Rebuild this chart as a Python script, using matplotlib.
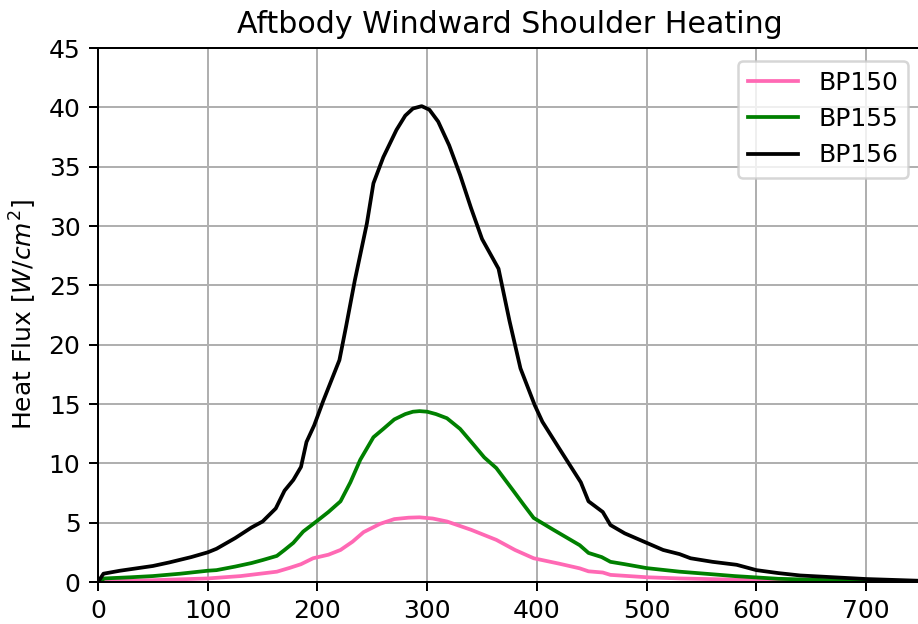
import matplotlib
matplotlib.use("Agg")
from matplotlib import pyplot as plt

# heat flux at the three shoulder body points vs time
t_bp150 = [0, 20, 50, 100, 130, 163, 175, 185, 196, 210, 221, 232, 242, 257, 270,
           283, 293, 305, 318, 340, 363, 380, 397, 420, 439, 447, 460, 467, 500,
           530, 580, 650, 750]
q_bp150 = [0, 0.1, 0.15, 0.3, 0.5, 0.87, 1.2, 1.5, 2.0, 2.3, 2.7, 3.4, 4.2, 4.9, 5.3,
           5.42, 5.45, 5.35, 5.1, 4.4, 3.55, 2.7, 2.0, 1.55, 1.15, 0.9, 0.8, 0.6, 0.4,
           0.3, 0.2, 0.1, 0.05]

t_bp155 = [0, 6, 30, 50, 75, 100, 108, 125, 140, 150, 163, 170, 178, 187, 199, 210,
           221, 230, 239, 251, 260, 270, 280, 287, 293, 300, 308, 318, 330, 342, 352,
           363, 378, 388, 397, 415, 439, 447, 459, 467, 480, 500, 530, 560, 580, 620,
           660, 700, 750]
q_bp155 = [0, 0.3, 0.4, 0.5, 0.7, 0.95, 1.0, 1.3, 1.6, 1.85, 2.2, 2.7, 3.3, 4.25, 5.1,
           5.9, 6.8, 8.4, 10.3, 12.2, 12.9, 13.7, 14.15, 14.35, 14.4, 14.35, 14.15,
           13.8, 12.9, 11.6, 10.5, 9.6, 7.75, 6.5, 5.4, 4.4, 3.1, 2.45, 2.1, 1.7, 1.5,
           1.17, 0.87, 0.65, 0.5, 0.27, 0.17, 0.1, 0.05]

t_bp156 = [0, 5, 20, 35, 50, 65, 85, 100, 108, 125, 140, 150, 162, 170, 178, 185, 190,
           197, 205, 220, 226, 234, 245, 251, 260, 272, 280, 287, 295, 302, 310, 320,
           330, 340, 350, 365, 375, 385, 398, 405, 420, 440, 447, 460, 467, 480, 500,
           515, 530, 540, 560, 582, 600, 620, 640, 670, 700, 750]
q_bp156 = [0, 0.7, 0.95, 1.15, 1.35, 1.65, 2.1, 2.5, 2.8, 3.7, 4.6, 5.1, 6.2, 7.7, 8.6,
           9.7, 11.8, 13.2, 15.2, 18.7, 21.5, 25.4, 30.2, 33.6, 35.8, 38.1, 39.3, 39.9,
           40.1, 39.8, 38.8, 36.8, 34.3, 31.5, 28.9, 26.4, 22.0, 18.0, 14.9, 13.5, 11.3,
           8.4, 6.8, 5.9, 4.8, 4.1, 3.3, 2.7, 2.35, 2.0, 1.7, 1.45, 1.0, 0.75, 0.55,
           0.4, 0.25, 0.1]

DPI = 180
fig = plt.figure(figsize=(919 / DPI, 624 / DPI), dpi=DPI)
ax = fig.add_axes([98 / 919, 42 / 624, 823 / 919, 534 / 624])

ax.plot(t_bp150, q_bp150, color='hotpink', label='BP150')
ax.plot(t_bp155, q_bp155, color='green', label='BP155')
ax.plot(t_bp156, q_bp156, color='black', label='BP156')

ax.set_xlim(0, 750)
ax.set_ylim(0, 45)
ax.set_xticks(range(0, 701, 100))
ax.set_yticks(range(0, 46, 5))
ax.grid(True)
ax.set_ylabel('Heat Flux [$W/cm^2$]')
ax.set_title('Aftbody Windward Shoulder Heating')
ax.legend(loc='upper right')

fig.savefig('out.png', dpi=DPI)
